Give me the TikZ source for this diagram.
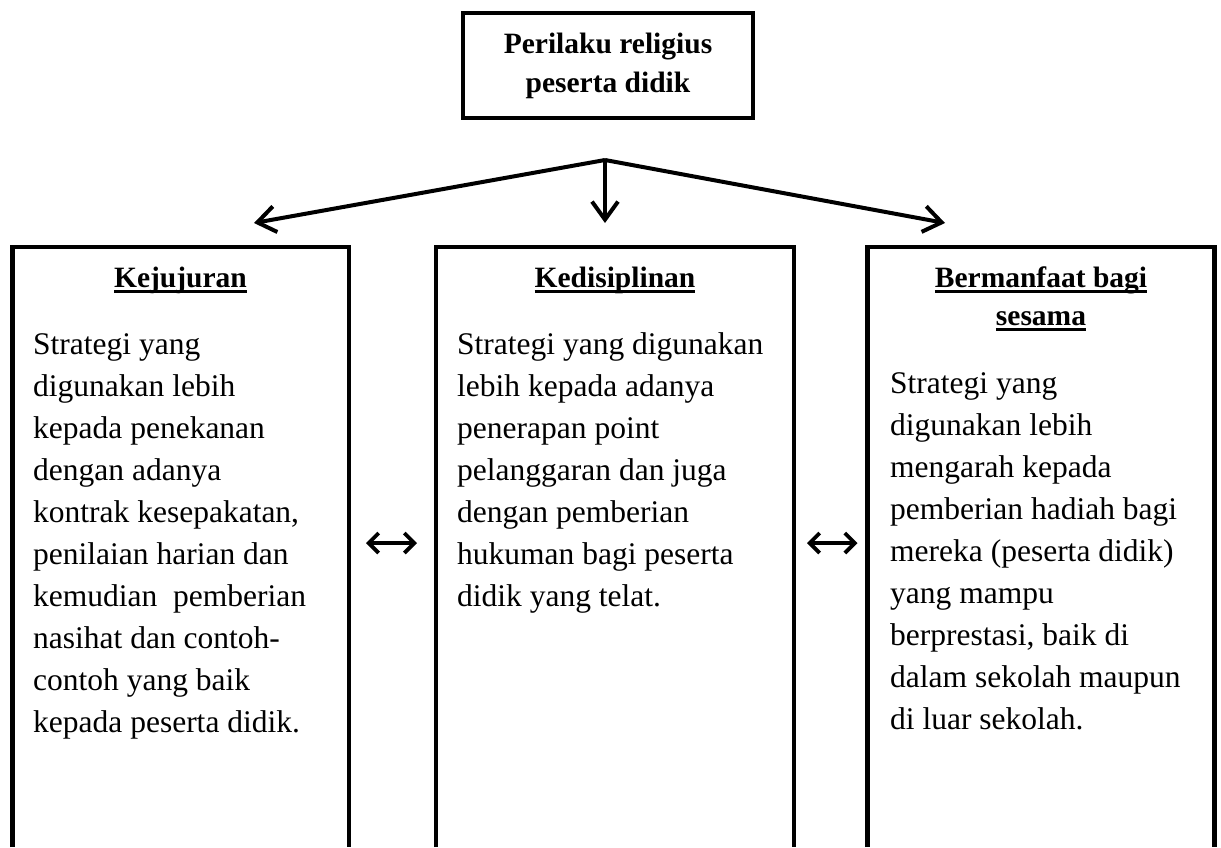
\documentclass[tikz,border=0pt]{standalone}
\usepackage{fontspec}
\setmainfont{Liberation Serif}
\usetikzlibrary{arrows.meta}
\newcommand\myul[1]{\setbox0\hbox{#1}\rlap{\rule[-5.6pt]{\wd0}{2.4pt}}\box0}
\tikzset{
  frame/.style={line width=4.5pt, line join=miter},
  fan/.style={line width=4pt, -{Straight Barb[length=18pt,width=26pt]}},
  both/.style={line width=3.8pt, {Straight Barb[length=10pt,width=20pt]}-{Straight Barb[length=10pt,width=20pt]}},
  title/.style={inner sep=0pt, align=center, font=\fontsize{29.5}{38}\selectfont\bfseries},
  body/.style={inner sep=0pt, align=left, anchor=north west, font=\fontsize{31.5}{42}\selectfont},
}
\begin{document}
\begin{tikzpicture}[x=1pt,y=-1pt]
\useasboundingbox (0,0) rectangle (1221,847);
% top box
\node[draw, line width=4pt, minimum width=290pt, minimum height=105pt, inner sep=0pt,
      align=center, font=\fontsize{29.5}{39}\selectfont\bfseries] (top) at (608,65.5)
      {Perilaku religius\\peserta didik};
% fan arrows
\coordinate (apex) at (605,160);
\coordinate (tl) at (254,223);
\coordinate (tm) at (605,223);
\coordinate (tr) at (945,223);
\draw[fan] (apex) -- (tl);
\draw[fan] (apex) -- (tm);
\draw[fan] (apex) -- (tr);
% boxes (open at bottom)
\draw[frame] (12.5,847) -- (12.5,247) -- (349,247) -- (349,847);
\draw[frame] (436,847) -- (436,247) -- (794,247) -- (794,847);
\draw[frame] (867.5,847) -- (867.5,247) -- (1214.5,247) -- (1214.5,847);
\coordinate (lr) at (349,543);
\coordinate (ml) at (436,543);
\coordinate (mr) at (794,543);
\coordinate (rl) at (867.5,543);
\draw[both] ([xshift=17pt]lr) -- ([xshift=-19pt]ml);
\draw[both] ([xshift=13pt]mr) -- ([xshift=-10pt]rl);
% titles
\node[title, anchor=base] (t1) at (180.5,287) {\myul{Kejujuran}};
\node[title, anchor=base] (t2) at (615,287) {\myul{Kedisiplinan}};
\node[title, anchor=north] (t3) at (1041,265) {\rule{0pt}{22pt}\myul{Bermanfaat bagi}\\\myul{sesama}};
% body texts
\node[body] (b1) at (33,330) {\rule{0pt}{24pt}Strategi yang\\digunakan lebih\\kepada penekanan\\dengan adanya\\kontrak kesepakatan,\\penilaian harian dan\\kemudian\ \ pemberian\\nasihat dan contoh-\\contoh yang baik\\kepada peserta didik.};
\node[body] (b2) at (457,330) {\rule{0pt}{24pt}Strategi yang digunakan\\lebih kepada adanya\\penerapan point\\pelanggaran dan juga\\dengan pemberian\\hukuman bagi peserta\\didik yang telat.};
\node[body] (b3) at (890,369) {\rule{0pt}{24pt}Strategi yang\\digunakan lebih\\mengarah kepada\\pemberian hadiah bagi\\mereka (peserta didik)\\yang mampu\\berprestasi, baik di\\dalam sekolah maupun\\di luar sekolah.};
\end{tikzpicture}
\end{document}
